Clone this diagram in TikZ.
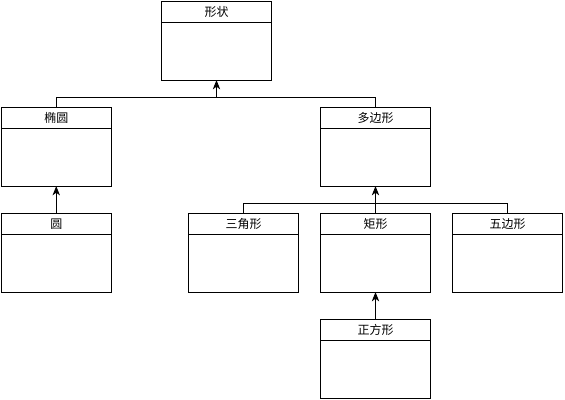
\documentclass[tikz,border=0pt]{standalone}
\usepackage{fontspec}
\newfontfamily\cjk{Noto Sans CJK SC}
\usepackage{tikz}
\usetikzlibrary{positioning,arrows.meta}

\begin{document}
\begin{tikzpicture}[x=0.75pt, y=-0.75pt,
                    >={Stealth[length=7pt,width=5.5pt,inset=2pt]},
                    every node/.style={draw=black, line width=0.75pt, outer sep=0pt,
                                       minimum width=82.5pt},
                    classname/.style={minimum height=15.4pt, inner sep=0pt,
                                      font=\cjk\fontsize{9}{10}\selectfont},
                    classbody/.style={minimum height=43.5pt, below=0pt of #1},
                    every path/.style={line width=0.75pt}]
\useasboundingbox (0,0) rectangle (565,400);
\node[classname] (shape) at (216.5,11.75) {形状};
\node[classbody=shape] (shapebody) {};
\node[classname] (ellipse) at (56.25,117.75) {椭圆};
\node[classbody=ellipse] (ellipsebody) {};
\node[classname] (polygon) at (375.5,117.75) {多边形};
\node[classbody=polygon] (polygonbody) {};
\node[classname, below=20.6pt of ellipsebody] (circle) {圆};
\node[classbody=circle] (circlebody) {};
\node[classname, below=20.6pt of polygonbody] (rect) {矩形};
\node[classbody=rect] (rectbody) {};
\node[classname, left=16.5pt of rect] (triangle) {三角形};
\node[classbody=triangle] (trianglebody) {};
\node[classname, right=16.5pt of rect] (pentagon) {五边形};
\node[classbody=pentagon] (pentagonbody) {};
\node[classname, below=20.6pt of rectbody] (square) {正方形};
\node[classbody=square] (squarebody) {};
\path (shapebody.south) ++(0,17.5) coordinate (bus1);
\path (polygonbody.south) ++(0,17.5) coordinate (bus2);
\draw (ellipse.north) |- (bus1) -| (polygon.north);
\draw[->] (bus1) -- (shapebody.south);
\draw (triangle.north) |- (bus2) -| (pentagon.north);
\draw[->] (rect.north) -- (polygonbody.south);
\draw[->] (circle.north) -- (ellipsebody.south);
\draw[->] (square.north) -- (rectbody.south);
\end{tikzpicture}
\end{document}
